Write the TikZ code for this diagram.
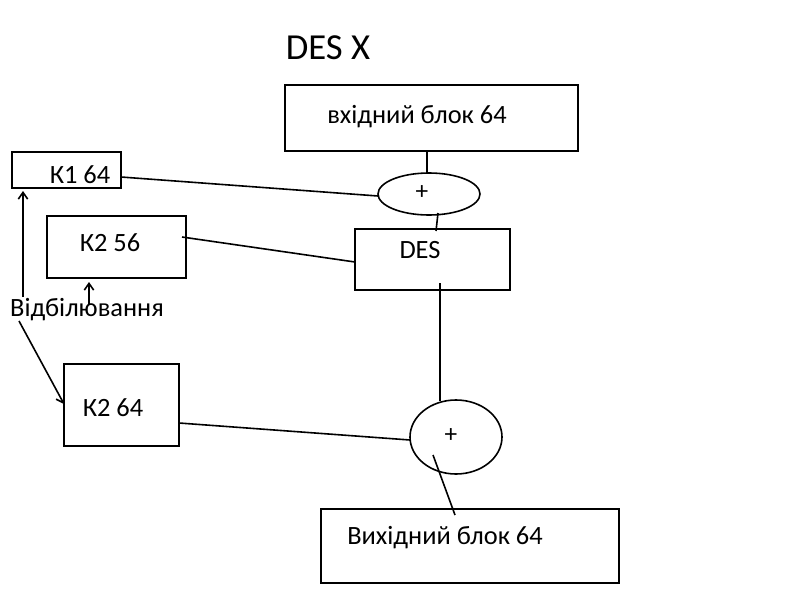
\documentclass[tikz,border=0pt]{standalone}
\usepackage{fontspec}
\setmainfont{Carlito}
\usetikzlibrary{shapes.geometric,arrows.meta}
\tikzset{
  blk/.style={draw,line width=1.5pt,rectangle},
  sumline/.style={line width=1.2pt},
  conn/.style={line width=1.2pt},
  arr/.style={line width=1.2pt,-{Straight Barb[length=5pt,width=7pt]}},
  lbl/.style={font=\fontsize{19.8pt}{23pt}\selectfont,inner sep=0pt},
  plus/.style={font=\fontsize{19pt}{22pt}\selectfont,inner sep=0pt},
}
\begin{document}
\begin{tikzpicture}[x=0.75pt,y=-0.75pt]
\useasboundingbox (0,0) rectangle (800,600);
\node[font=\fontsize{27.5pt}{32pt}\selectfont,inner sep=0pt] (title) at (328,48) {DES X};
% boxes
\draw[blk] (285,85) rectangle (578,151);
\node[lbl] (inb) at (417,117) {вхідний блок 64};
\draw[blk] (355,229) rectangle (510,290);
\node[lbl] (des) at (420,250) {DES};
\draw[blk] (321,509) rectangle (619,583);
\node[lbl] (outb) at (445,538) {Вихідний блок 64};
\draw[blk] (12,152) rectangle (121,188);
\node[lbl] (k1) at (80,175) {К1 64};
\draw[blk] (47,216) rectangle (186,278);
\node[lbl] (k256) at (110,243) {К2 56};
\draw[blk] (64,364) rectangle (179,446);
\node[lbl] (k264) at (113,408) {К2 64};
% ellipses
\draw[sumline] (429,194) ellipse [x radius=51,y radius=21];
\node[plus] (p1) at (422,193) {+};
\draw[sumline] (456,437) ellipse [x radius=46,y radius=37];
\node[plus] (p2) at (451,436) {+};
% label
\node[lbl] (wh) at (87,310) {Відбілювання};
% coordinates
\coordinate (inbot) at (427,151);
\coordinate (e1top) at (427,173);
\coordinate (e1bot) at (438,213);
\coordinate (e1left) at (378,196);
\coordinate (destop) at (436,231);
\coordinate (desin) at (440,283);
\coordinate (desleft) at (355,262);
\coordinate (e2top) at (440,401);
\coordinate (e2left) at (410,440);
\coordinate (e2in) at (433,455);
\coordinate (outtop) at (455,515);
\coordinate (k1r) at (121,177);
\coordinate (k256r) at (182,237);
\coordinate (k264r) at (179,423);
\coordinate (a1s) at (23,297);
\coordinate (a1e) at (23,191);
\coordinate (a2s) at (89,304);
\coordinate (a2e) at (89,282);
\coordinate (a3s) at (19,321);
\coordinate (a3e) at (64,404);
% connectors
\draw[conn] (inbot) -- (e1top);
\draw[conn] (e1bot) -- (destop);
\draw[conn] (desin) -- (e2top);
\draw[conn] (e2in) -- (outtop);
\draw[conn] (k1r) -- (e1left);
\draw[conn] (k256r) -- (desleft);
\draw[conn] (k264r) -- (e2left);
\draw[arr] (a1s) -- (a1e);
\draw[arr] (a2s) -- (a2e);
\draw[arr] (a3s) -- (a3e);
\end{tikzpicture}
\end{document}
